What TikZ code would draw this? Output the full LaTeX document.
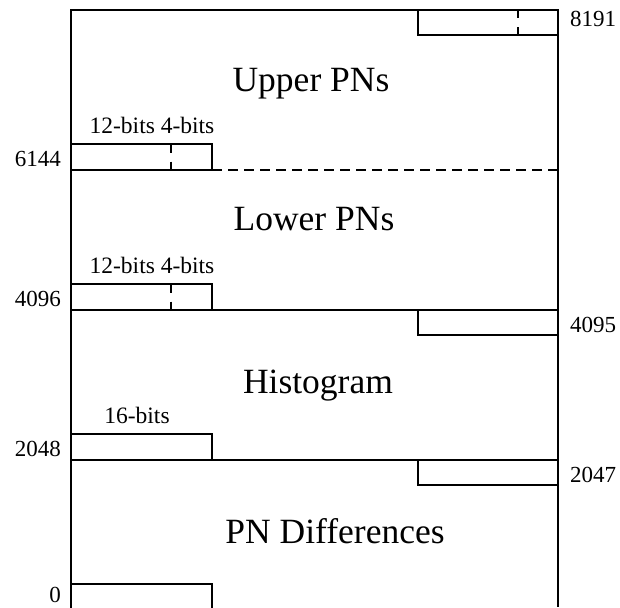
\documentclass[tikz,border=0pt]{standalone}
\usepackage{fontspec}
\setmainfont{Liberation Serif}
\usepackage{tikz}

\begin{document}
\begin{tikzpicture}[
    x=1pt, y=-1pt,
    frame/.style={line width=2.2pt},
    field/.style={draw, line width=2.2pt},
    split/.style={line width=2.2pt, dash pattern=on 8.5pt off 9pt},
    border/.style={line width=2.2pt, dash pattern=on 10pt off 6pt},
    region/.style={font=\fontsize{35.5}{35.5}\selectfont, inner sep=0pt},
    addr/.style={font=\fontsize{23}{23}\selectfont, inner sep=0pt},
    width/.style={font=\fontsize{23.5}{23.5}\selectfont, inner sep=0pt}
]
    \clip (0,0) rectangle (620,607);

    % memory frame
    \draw[frame] (71,607) -- (71,10) -- (558,10) -- (558,607);
    \draw[border] (212,170) -- (558,170);
    \draw[frame] (71,310) -- (558,310);
    \draw[frame] (71,460) -- (558,460);

    % entry boxes
    \draw[field] (418,10) rectangle (558,35);
    \draw[split] (518,10) -- (518,35);
    \draw[field] (71,144) rectangle (212,170);
    \draw[split] (171,144) -- (171,170);
    \draw[field] (71,284) rectangle (212,310);
    \draw[split] (171,284) -- (171,310);
    \draw[field] (418,310) rectangle (558,335);
    \draw[field] (71,434) rectangle (212,460);
    \draw[field] (418,460) rectangle (558,485);
    \draw[field] (71,584) rectangle (212,610);

    % regions
    \node[region, anchor=base] (upper) at (311,92) {Upper PNs};
    \node[region, anchor=base] (lower) at (314,230) {Lower PNs};
    \node[region, anchor=base] (hist) at (318,393) {Histogram};
    \node[region, anchor=base] (diff) at (335,543) {PN Differences};

    % field widths
    \node[width, anchor=base] (w6144) at (152,133) {12-bits 4-bits};
    \node[width, anchor=base] (w4096) at (152,273) {12-bits 4-bits};
    \node[width, anchor=base] (w2048) at (137,423) {16-bits};

    % addresses
    \node[addr, anchor=base west] (a8191) at (570,27) {8191};
    \node[addr, anchor=base east] (a6144) at (61,166) {6144};
    \node[addr, anchor=base east] (a4096) at (61,306) {4096};
    \node[addr, anchor=base west] (a4095) at (570,332) {4095};
    \node[addr, anchor=base east] (a2048) at (61,456) {2048};
    \node[addr, anchor=base west] (a2047) at (570,482) {2047};
    \node[addr, anchor=base east] (a0) at (61,602) {0};
\end{tikzpicture}
\end{document}
